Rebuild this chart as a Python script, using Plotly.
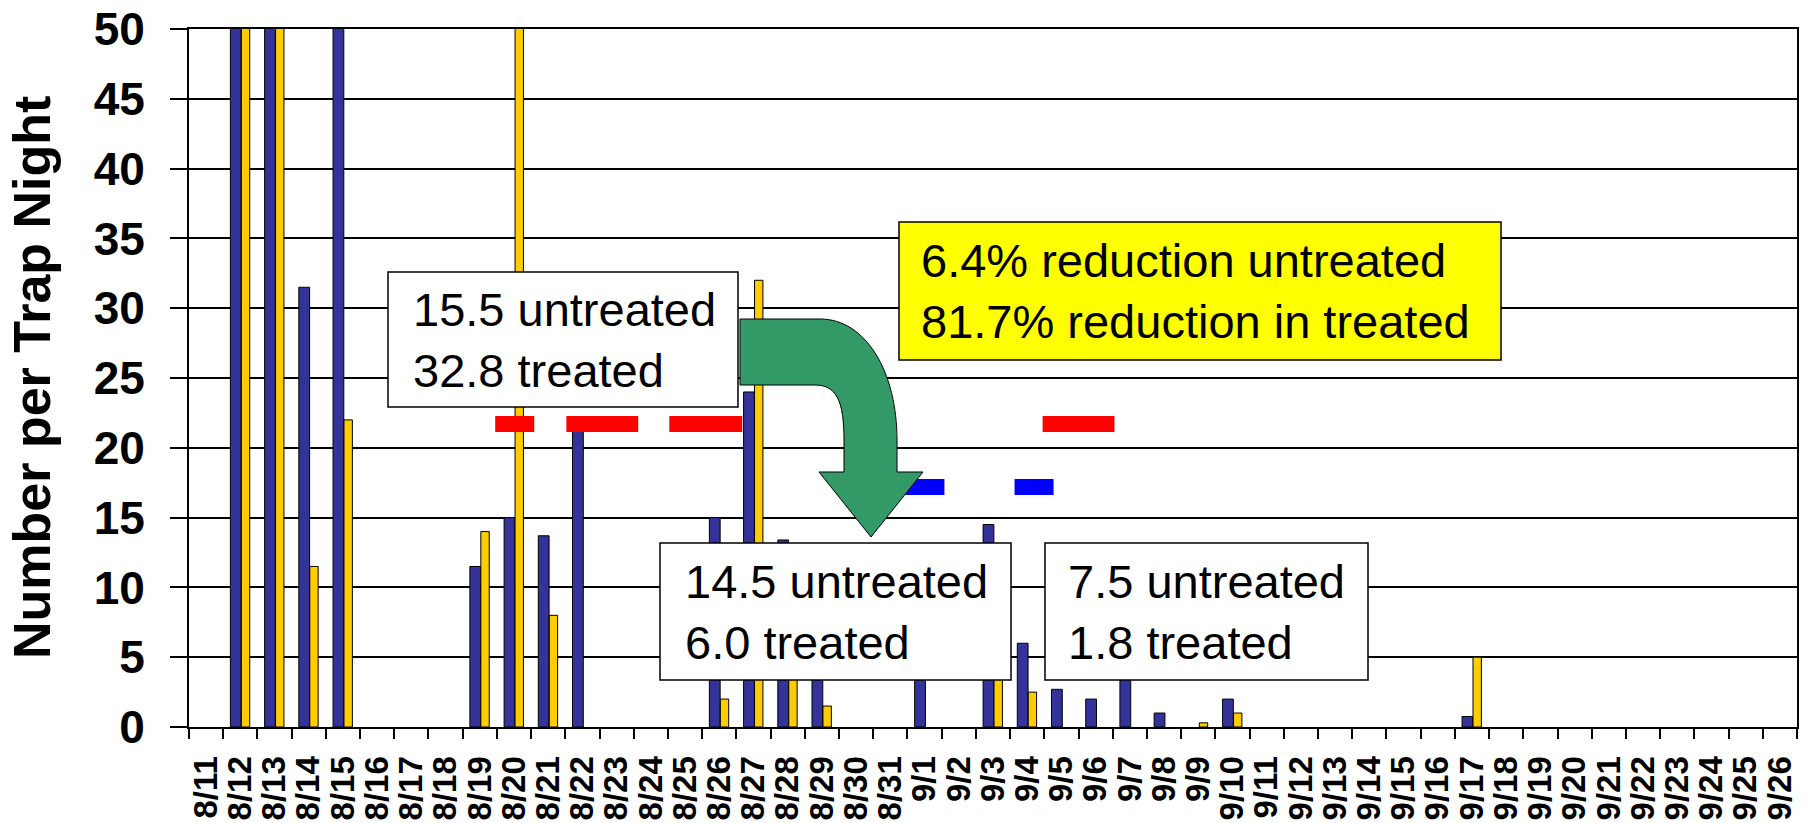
import plotly.graph_objects as go

# ---------------- data ----------------
dates = [f"8/{d}" for d in range(11, 32)] + [f"9/{d}" for d in range(1, 27)]

untreated = [0, 95, 85, 31.5, 58, 0, 0, 0, 11.5, 15, 13.7, 21.2, 0, 0, 0,
             15, 24, 13.4, 10, 0, 0, 9, 0, 14.5, 6, 2.7, 2, 7, 1, 0, 2,
             0, 0, 0, 0, 0, 0, 0.75, 0, 0, 0, 0, 0, 0, 0, 0, 0]
treated = [0, 70, 62, 11.5, 22, 0, 0, 0, 14, 52, 8, 0, 0, 0, 0,
           2, 32, 8, 1.5, 0, 0, 0, 0, 6, 2.5, 0, 0, 0, 0, 0.3, 1,
           0, 0, 0, 0, 0, 0, 5, 0, 0, 0, 0, 0, 0, 0, 0, 0]

y_ticks = list(range(0, 51, 5))

box_texts = ["15.5 untreated<br>32.8 treated",
             "6.4% reduction untreated<br>81.7% reduction in treated",
             "14.5 untreated<br>6.0 treated",
             "7.5 untreated<br>1.8 treated"]

# ---------------- layout geometry ----------------
W, H = 1808, 823
L, R, T, B = 189, 1797, 29, 727


def px(x):
    return (x - L) / (R - L)


def py(y):
    return (B - y) / (B - T)


def nz(vals):
    # zero-height bars are not drawn (avoid outline stubs on the axis)
    return [v if v else None for v in vals]


fig = go.Figure()
fig.add_trace(go.Bar(x=dates, y=nz(untreated), name="untreated",
                     marker=dict(color="#333399", line=dict(color="black", width=1)),
                     width=0.315, offset=-0.29))
fig.add_trace(go.Bar(x=dates, y=nz(treated), name="treated",
                     marker=dict(color="#FFCC00", line=dict(color="black", width=1)),
                     width=0.245, offset=0.03))

shapes = []
# red / blue dashes (category-index x, data y)
red_segs = [(8.45, 9.59), (10.53, 12.63), (13.54, 15.67), (24.45, 26.55)]
blue_segs = [(20.44, 21.58), (23.63, 24.77)]
for a, b in red_segs:
    shapes.append(dict(type="rect", xref="x", yref="y", x0=a, x1=b, y0=21.13, y1=22.28,
                       fillcolor="#FF0000", line=dict(width=0), layer="above"))
for a, b in blue_segs:
    shapes.append(dict(type="rect", xref="x", yref="y", x0=a, x1=b, y0=16.62, y1=17.77,
                       fillcolor="#0000FF", line=dict(width=0), layer="above"))

# text boxes (pixel rectangles)
boxes = [((388, 272, 738, 407), "white", 411),
         ((899, 222, 1501, 360), "#FFFF00", 919),
         ((660, 543, 1011, 680), "white", 683),
         ((1045, 543, 1368, 680), "white", 1066)]
annotations = []
for (x0, y0, x1, y1), fill, tx in boxes:
    shapes.append(dict(type="rect", xref="paper", yref="paper",
                       x0=px(x0), x1=px(x1), y0=py(y1), y1=py(y0),
                       fillcolor=fill, line=dict(color="black", width=1.5), layer="above"))
for ((x0, y0, x1, y1), fill, tx), txt in zip(boxes, box_texts):
    annotations.append(dict(xref="paper", yref="paper", x=px(tx), y=py((y0 + y1) / 2),
                            xanchor="left", yanchor="middle", showarrow=False, align="left",
                            text=txt, font=dict(family="Liberation Sans, Arial", size=47, color="black")))

# green bent arrow (pixel path)
pts = "M {a},{b} L {c},{b} C {d},{b} {e},{f} {e},{g} L {e},{h} L {i},{h} L {j},{k} L {l},{h} L {m},{h} L {m},{n} C {m},{o} {p},{q} {r},{q} L {a},{q} Z"
coords = dict(a=740, b=319, c=820, d=866, e=897, f=372, g=440, h=472, i=923, j=871, k=537,
              l=819, m=844, n=440, o=400, p=836, q=385, r=815)
xs = {"a", "c", "d", "e", "i", "j", "l", "m", "p", "r"}
conv = {k: (f"{px(v):.5f}" if k in xs else f"{py(v):.5f}") for k, v in coords.items()}
path = pts.format(**conv)
shapes.append(dict(type="path", xref="paper", yref="paper", path=path,
                   fillcolor="#339966", line=dict(color="black", width=1), layer="above"))

# y-axis title as rotated annotation
annotations.append(dict(xref="paper", yref="paper", x=px(32), y=0.5, xanchor="center", yanchor="middle",
                        showarrow=False, textangle=-90, text="Number per Trap Night",
                        font=dict(family="Liberation Sans, Arial", size=52, color="black", weight="bold")))

fig.update_layout(
    width=W, height=H,
    margin=dict(l=L, r=W - R, t=T, b=H - B, autoexpand=False),
    paper_bgcolor="white", plot_bgcolor="white",
    barmode="overlay", showlegend=False,
    shapes=shapes, annotations=annotations,
    font=dict(family="Liberation Sans, Arial", color="black"),
)
fig.update_xaxes(type="category", range=[-0.5, len(dates) - 0.5],
                 tickmode="array", tickvals=dates, ticktext=dates,
                 showline=True, linecolor="black", linewidth=2, mirror=True,
                 ticks="outside", tickson="boundaries", ticklen=10, tickwidth=1.5, tickcolor="black",
                 tickangle=-90, ticklabelstandoff=14, automargin=False,
                 tickfont=dict(family="Liberation Sans, Arial", size=33, color="black", weight="bold"),
                 showgrid=False)
fig.update_yaxes(range=[0, 50], tickvals=y_ticks,
                 showline=True, linecolor="black", linewidth=2, mirror=True,
                 ticks="outside", ticklen=17, tickwidth=1.5, tickcolor="black",
                 ticklabelstandoff=16, automargin=False,
                 tickfont=dict(family="Liberation Sans, Arial", size=46, color="black", weight="bold"),
                 showgrid=True, gridcolor="black", gridwidth=1.8, zeroline=False)

fig.write_html("out.html", config={"displayModeBar": False},
               post_script="document.body.style.margin='0';document.body.style.overflow='hidden';")
